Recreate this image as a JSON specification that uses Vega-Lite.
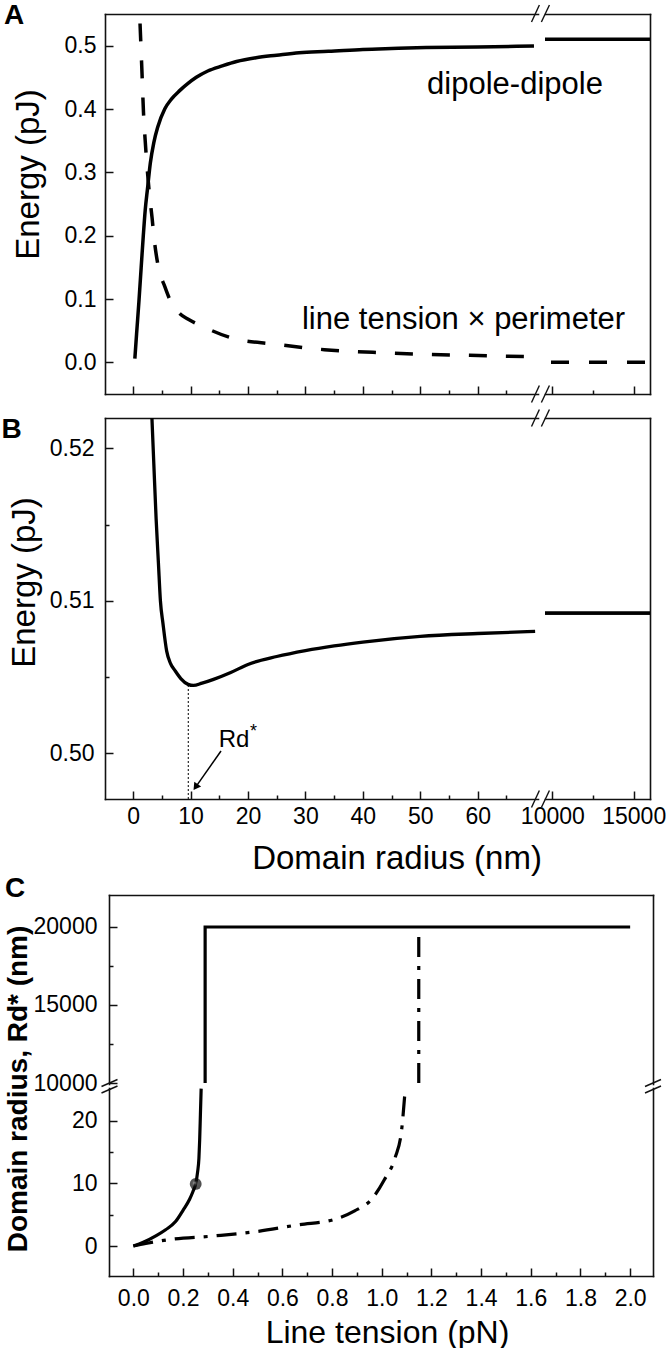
{
  "$schema": "https://vega.github.io/schema/vega-lite/v6.json",
  "autosize": {"type": "pad"},
  "padding": {"left": 1, "top": 2, "right": 0, "bottom": 0},
  "background": "white",
  "config": {
    "view": {"stroke": null},
    "axis": {
      "domainColor": "#111", "domainWidth": 1.6, "domainCap": "square",
      "tickColor": "#111", "tickWidth": 1.5,
      "labelColor": "black", "labelFont": "Liberation Sans", "labelFontSize": 23,
      "titleColor": "black", "titleFont": "Liberation Sans", "titleFontWeight": "normal",
      "grid": false, "labelOverlap": false, "labelFlush": false, "labelBound": false
    },
    "text": {"font": "Liberation Sans", "color": "black"}
  },
  "datasets": {
    "a": [
      {"s": "dipole", "x": 0.3, "y": 0.006}, {"s": "dipole", "x": 0.6, "y": 0.045}, {"s": "dipole", "x": 1.0, "y": 0.095},
      {"s": "dipole", "x": 1.4, "y": 0.15}, {"s": "dipole", "x": 1.77, "y": 0.2}, {"s": "dipole", "x": 2.1, "y": 0.24},
      {"s": "dipole", "x": 2.5, "y": 0.274}, {"s": "dipole", "x": 3.0, "y": 0.315}, {"s": "dipole", "x": 3.6, "y": 0.347},
      {"s": "dipole", "x": 4.3, "y": 0.372}, {"s": "dipole", "x": 5.5, "y": 0.4}, {"s": "dipole", "x": 6.7, "y": 0.416},
      {"s": "dipole", "x": 8.1, "y": 0.429}, {"s": "dipole", "x": 9.5, "y": 0.44}, {"s": "dipole", "x": 11.0, "y": 0.45},
      {"s": "dipole", "x": 13.0, "y": 0.46}, {"s": "dipole", "x": 15.5, "y": 0.468}, {"s": "dipole", "x": 18.0, "y": 0.475},
      {"s": "dipole", "x": 21.4, "y": 0.481}, {"s": "dipole", "x": 25.0, "y": 0.485}, {"s": "dipole", "x": 28.9, "y": 0.489},
      {"s": "dipole", "x": 34.0, "y": 0.491}, {"s": "dipole", "x": 40.0, "y": 0.494}, {"s": "dipole", "x": 45.0, "y": 0.4955},
      {"s": "dipole", "x": 51.0, "y": 0.497}, {"s": "dipole", "x": 60.0, "y": 0.498}, {"s": "dipole", "x": 69.8, "y": 0.4995},
      {"s": "dipole", "x": 9550, "y": 0.51}, {"s": "dipole", "x": 16000, "y": 0.51},
      {"s": "tension", "x": 1.2, "y": 0.535}, {"s": "tension", "x": 1.4, "y": 0.49}, {"s": "tension", "x": 1.55, "y": 0.455},
      {"s": "tension", "x": 1.8, "y": 0.395}, {"s": "tension", "x": 2.1, "y": 0.35}, {"s": "tension", "x": 2.5, "y": 0.3},
      {"s": "tension", "x": 2.9, "y": 0.26}, {"s": "tension", "x": 3.3, "y": 0.228}, {"s": "tension", "x": 3.6, "y": 0.2},
      {"s": "tension", "x": 4.4, "y": 0.15}, {"s": "tension", "x": 5.5, "y": 0.12}, {"s": "tension", "x": 6.6, "y": 0.095},
      {"s": "tension", "x": 8.0, "y": 0.078}, {"s": "tension", "x": 9.6, "y": 0.068}, {"s": "tension", "x": 12.5, "y": 0.055},
      {"s": "tension", "x": 17.7, "y": 0.037}, {"s": "tension", "x": 24.4, "y": 0.029}, {"s": "tension", "x": 33.3, "y": 0.02},
      {"s": "tension", "x": 43.7, "y": 0.015}, {"s": "tension", "x": 58.6, "y": 0.011}, {"s": "tension", "x": 69.8, "y": 0.009},
      {"s": "tension", "x": 9550, "y": 0.0}, {"s": "tension", "x": 16000, "y": 0.0}
    ],
    "b": [
      {"x": 3.25, "y": 0.5222}, {"x": 3.6, "y": 0.519}, {"x": 4.0, "y": 0.5154}, {"x": 4.4, "y": 0.5125},
      {"x": 4.75, "y": 0.51}, {"x": 5.2, "y": 0.5085}, {"x": 5.84, "y": 0.5067}, {"x": 6.5, "y": 0.5059},
      {"x": 7.34, "y": 0.5054}, {"x": 8.3, "y": 0.5049}, {"x": 9.57, "y": 0.50452}, {"x": 10.5, "y": 0.50445},
      {"x": 12.0, "y": 0.5046}, {"x": 14.0, "y": 0.50485}, {"x": 17.0, "y": 0.5053}, {"x": 20.0, "y": 0.50583},
      {"x": 25.0, "y": 0.50635}, {"x": 30.0, "y": 0.50674}, {"x": 35.0, "y": 0.50705}, {"x": 40.0, "y": 0.5073},
      {"x": 50.0, "y": 0.50767}, {"x": 60.0, "y": 0.50786}, {"x": 70.0, "y": 0.508},
      {"x": 9550, "y": 0.50919}, {"x": 16000, "y": 0.50919}
    ],
    "c": [
      {"s": "solid", "i": 0, "x": 0, "y": 0}, {"s": "solid", "i": 1, "x": 0.04, "y": 0.6}, {"s": "solid", "i": 2, "x": 0.094, "y": 1.7},
      {"s": "solid", "i": 3, "x": 0.13, "y": 2.6}, {"s": "solid", "i": 4, "x": 0.17, "y": 3.9}, {"s": "solid", "i": 5, "x": 0.2, "y": 5.7},
      {"s": "solid", "i": 6, "x": 0.227, "y": 7.5}, {"s": "solid", "i": 7, "x": 0.24, "y": 8.7}, {"s": "solid", "i": 8, "x": 0.251, "y": 9.9},
      {"s": "solid", "i": 9, "x": 0.259, "y": 11.9}, {"s": "solid", "i": 10, "x": 0.264, "y": 14.0}, {"s": "solid", "i": 11, "x": 0.267, "y": 16.9},
      {"s": "solid", "i": 12, "x": 0.27, "y": 21.0}, {"s": "solid", "i": 13, "x": 0.273, "y": 25.1},
      {"s": "solid", "i": 14, "x": 0.289, "y": 10000}, {"s": "solid", "i": 15, "x": 0.289, "y": 20000}, {"s": "solid", "i": 16, "x": 2.0, "y": 20000},
      {"s": "dashdot", "i": 0, "x": 0, "y": 0}, {"s": "dashdot", "i": 1, "x": 0.05, "y": 0.4}, {"s": "dashdot", "i": 2, "x": 0.14, "y": 1.0},
      {"s": "dashdot", "i": 3, "x": 0.323, "y": 1.6}, {"s": "dashdot", "i": 4, "x": 0.495, "y": 2.3}, {"s": "dashdot", "i": 5, "x": 0.667, "y": 3.4},
      {"s": "dashdot", "i": 6, "x": 0.805, "y": 4.2}, {"s": "dashdot", "i": 7, "x": 0.891, "y": 5.6}, {"s": "dashdot", "i": 8, "x": 0.96, "y": 7.5},
      {"s": "dashdot", "i": 9, "x": 1.011, "y": 10.6}, {"s": "dashdot", "i": 10, "x": 1.054, "y": 14.1}, {"s": "dashdot", "i": 11, "x": 1.08, "y": 18.5},
      {"s": "dashdot", "i": 12, "x": 1.094, "y": 24.8},
      {"s": "dashdot", "i": 13, "x": 1.149, "y": 10000}, {"s": "dashdot", "i": 14, "x": 1.149, "y": 20000}
    ],
    "brk": [
      {"p": "A", "x": 69.37, "y": 0.5374, "x2": 70.74, "y2": 0.5642},
      {"p": "A", "x": 71.09, "y": 0.5374, "x2": 72.49, "y2": 0.5642},
      {"p": "A", "x": 69.37, "y": -0.0634, "x2": 70.74, "y2": -0.0366},
      {"p": "A", "x": 71.09, "y": -0.0634, "x2": 72.49, "y2": -0.0366},
      {"p": "B", "x": 69.37, "y": 0.52144, "x2": 70.74, "y2": 0.52256},
      {"p": "B", "x": 71.09, "y": 0.52144, "x2": 72.49, "y2": 0.52256},
      {"p": "B", "x": 69.37, "y": 0.49644, "x2": 70.74, "y2": 0.49756},
      {"p": "B", "x": 71.09, "y": 0.49644, "x2": 72.49, "y2": 0.49756},
      {"p": "C", "x": -0.1282, "y": 25.439, "x2": -0.0638, "y2": 26.555},
      {"p": "C", "x": -0.1282, "y": 24.403, "x2": -0.0638, "y2": 25.519},
      {"p": "C", "x": 2.0598, "y": 25.439, "x2": 2.1242, "y2": 26.555},
      {"p": "C", "x": 2.0598, "y": 24.403, "x2": 2.1242, "y2": 25.519}
    ]
  },
  "bounds": "flush",
  "spacing": 24,
  "vconcat": [
    {
      "width": 545, "height": 380,
      "resolve": {"scale": {"x": "independent"}, "axis": {"x": "independent", "y": "independent"}},
      "layer": [
        {
          "data": {"name": "a"},
          "transform": [{"filter": "datum.s === 'dipole' && datum.x < 1000"}],
          "mark": {"type": "line", "color": "black", "strokeWidth": 3.5, "clip": true, "interpolate": "monotone"},
          "encoding": {
            "x": {"field": "x", "type": "quantitative", "scale": {"domain": [-4.9, 70.5], "range": [0, 433], "nice": false, "zero": false},
              "axis": {"orient": "bottom", "values": [0, 5, 10, 15, 20, 25, 30, 35, 40, 45, 50, 55, 60, 65], "labels": false, "title": null,
                "tickSize": {"condition": {"test": "datum.value % 10 !== 0", "value": -4}, "value": -8}}},
            "y": {"field": "y", "type": "quantitative", "scale": {"domain": [-0.05, 0.55], "nice": false, "zero": false},
              "axis": {"orient": "left", "values": [0, 0.1, 0.2, 0.3, 0.4, 0.5], "format": ".1f", "tickSize": -8, "labelPadding": 17,
                "title": "Energy (pJ)", "titleFontSize": 33, "titleX": -77, "titleY": 160, "titleAlign": "center", "titleBaseline": "middle", "titleAngle": 270}}
          }
        },
        {
          "data": {"name": "a"},
          "transform": [{"filter": "datum.s === 'tension' && datum.x < 1000"}],
          "mark": {"type": "line", "color": "black", "strokeWidth": 3.5, "strokeDash": [18, 19], "clip": true, "interpolate": "monotone"},
          "encoding": {
            "x": {"field": "x", "type": "quantitative", "scale": {"domain": [-4.9, 70.5], "range": [0, 433], "nice": false, "zero": false},
              "axis": {"orient": "top", "ticks": false, "labels": false, "title": null}},
            "y": {"field": "y", "type": "quantitative", "scale": {"domain": [-0.05, 0.55], "nice": false, "zero": false}, "axis": null}
          }
        },
        {
          "data": {"name": "a"},
          "transform": [{"filter": "datum.s === 'dipole' && datum.x >= 1000"}],
          "mark": {"type": "line", "color": "black", "strokeWidth": 3.5},
          "encoding": {
            "x": {"field": "x", "type": "quantitative", "scale": {"domain": [9550, 16000], "range": [440, 545], "nice": false, "zero": false},
              "axis": {"orient": "bottom", "values": [10000, 12500, 15000], "labels": false, "title": null,
                "tickSize": {"condition": {"test": "datum.value === 12500", "value": -4}, "value": -8}}},
            "y": {"field": "y", "type": "quantitative", "scale": {"domain": [-0.05, 0.55], "nice": false, "zero": false},
              "axis": {"orient": "right", "ticks": false, "labels": false, "title": null}}
          }
        },
        {
          "data": {"name": "a"},
          "transform": [{"filter": "datum.s === 'tension' && datum.x >= 1000"}],
          "mark": {"type": "line", "color": "black", "strokeWidth": 3.5, "strokeDash": [18, 20], "strokeDashOffset": 32},
          "encoding": {
            "x": {"field": "x", "type": "quantitative", "scale": {"domain": [9550, 16000], "range": [440, 545], "nice": false, "zero": false},
              "axis": {"orient": "top", "ticks": false, "labels": false, "title": null}},
            "y": {"field": "y", "type": "quantitative", "scale": {"domain": [-0.05, 0.55], "nice": false, "zero": false}, "axis": null}
          }
        },
        {
          "data": {"values": [{}]},
          "mark": {"type": "text", "text": "dipole-dipole", "fontSize": 31, "align": "center", "baseline": "alphabetic"},
          "encoding": {
            "x": {"datum": 66.5, "type": "quantitative", "scale": {"domain": [-4.9, 70.5], "range": [0, 433], "nice": false, "zero": false}, "axis": null},
            "y": {"datum": 0.4242, "type": "quantitative", "scale": {"domain": [-0.05, 0.55], "nice": false, "zero": false}, "axis": null}
          }
        },
        {
          "data": {"values": [{}]},
          "mark": {"type": "text", "text": "line tension × perimeter", "fontSize": 31, "align": "center", "baseline": "alphabetic"},
          "encoding": {
            "x": {"datum": 57.53, "type": "quantitative", "scale": {"domain": [-4.9, 70.5], "range": [0, 433], "nice": false, "zero": false}, "axis": null},
            "y": {"datum": 0.0522, "type": "quantitative", "scale": {"domain": [-0.05, 0.55], "nice": false, "zero": false}, "axis": null}
          }
        },
        {
          "data": {"values": [{}]},
          "mark": {"type": "text", "text": "A", "fontSize": 28, "fontWeight": "bold", "align": "center", "baseline": "middle", "dx": -91, "dy": 2},
          "encoding": {
            "x": {"datum": -4.9, "type": "quantitative", "scale": {"domain": [-4.9, 70.5], "range": [0, 433], "nice": false, "zero": false}, "axis": null},
            "y": {"datum": 0.55, "type": "quantitative", "scale": {"domain": [-0.05, 0.55], "nice": false, "zero": false}, "axis": null}
          }
        },
        {
          "data": {"name": "brk"},
          "transform": [{"filter": "datum.p === 'A'"}],
          "mark": {"type": "rule", "color": "#111", "strokeWidth": 1.4},
          "encoding": {
            "x": {"field": "x", "type": "quantitative", "scale": {"domain": [-4.9, 70.5], "range": [0, 433], "nice": false, "zero": false}, "axis": null},
            "x2": {"field": "x2"},
            "y": {"field": "y", "type": "quantitative", "scale": {"domain": [-0.05, 0.55], "nice": false, "zero": false}, "axis": null},
            "y2": {"field": "y2"}
          }
        }
      ]
    },
    {
      "width": 545, "height": 381,
      "resolve": {"scale": {"x": "independent"}, "axis": {"x": "independent", "y": "independent"}},
      "layer": [
        {
          "data": {"name": "b"},
          "transform": [{"filter": "datum.x < 1000"}],
          "mark": {"type": "line", "color": "black", "strokeWidth": 3.3, "clip": true, "interpolate": "monotone"},
          "encoding": {
            "x": {"field": "x", "type": "quantitative", "scale": {"domain": [-4.9, 70.5], "range": [0, 433], "nice": false, "zero": false},
              "axis": {"orient": "bottom", "values": [0, 5, 10, 15, 20, 25, 30, 35, 40, 45, 50, 55, 60, 65],
                "labelExpr": "datum.value % 10 === 0 ? datum.label : ''", "labelPadding": 14,
                "tickSize": {"condition": {"test": "datum.value % 10 !== 0", "value": -4}, "value": -8},
                "title": "Domain radius (nm)", "titleFontSize": 33, "titleX": 291.5, "titleY": 69, "titleAlign": "center", "titleBaseline": "alphabetic"}},
            "y": {"field": "y", "type": "quantitative", "scale": {"domain": [0.497, 0.522], "nice": false, "zero": false},
              "axis": {"orient": "left", "values": [0.5, 0.505, 0.51, 0.515, 0.52], "format": ".2f",
                "labelExpr": "round(datum.value * 1000) % 10 === 0 ? datum.label : ''",
                "tickSize": {"condition": {"test": "round(datum.value * 1000) % 10 !== 0", "value": -4}, "value": -8},
                "labelPadding": 19,
                "title": "Energy (pJ)", "titleFontSize": 33, "titleX": -80.5, "titleY": 164, "titleAlign": "center", "titleBaseline": "middle", "titleAngle": 270}}
          }
        },
        {
          "data": {"values": [{}]},
          "mark": {"type": "rule", "color": "black", "strokeWidth": 1, "strokeDash": [2, 2]},
          "encoding": {
            "x": {"datum": 9.6, "type": "quantitative", "scale": {"domain": [-4.9, 70.5], "range": [0, 433], "nice": false, "zero": false},
              "axis": {"orient": "top", "ticks": false, "labels": false, "title": null}},
            "y": {"datum": 0.497, "type": "quantitative", "scale": {"domain": [0.497, 0.522], "nice": false, "zero": false}, "axis": null},
            "y2": {"datum": 0.50445}
          }
        },
        {
          "data": {"name": "b"},
          "transform": [{"filter": "datum.x >= 1000"}],
          "mark": {"type": "line", "color": "black", "strokeWidth": 3.3},
          "encoding": {
            "x": {"field": "x", "type": "quantitative", "scale": {"domain": [9550, 16000], "range": [440, 545], "nice": false, "zero": false},
              "axis": {"orient": "bottom", "values": [10000, 12500, 15000], "format": "d",
                "labelExpr": "datum.value === 12500 ? '' : datum.label", "labelPadding": 14,
                "tickSize": {"condition": {"test": "datum.value === 12500", "value": -4}, "value": -8}, "title": null}},
            "y": {"field": "y", "type": "quantitative", "scale": {"domain": [0.497, 0.522], "nice": false, "zero": false},
              "axis": {"orient": "right", "ticks": false, "labels": false, "title": null}}
          }
        },
        {
          "data": {"name": "b"},
          "transform": [{"filter": "datum.x >= 1000"}],
          "mark": {"type": "line", "color": "black", "strokeWidth": 3.3},
          "encoding": {
            "x": {"field": "x", "type": "quantitative", "scale": {"domain": [9550, 16000], "range": [440, 545], "nice": false, "zero": false},
              "axis": {"orient": "top", "ticks": false, "labels": false, "title": null}},
            "y": {"field": "y", "type": "quantitative", "scale": {"domain": [0.497, 0.522], "nice": false, "zero": false}, "axis": null}
          }
        },
        {
          "data": {"values": [{}]},
          "mark": {"type": "text", "text": "Rd", "fontSize": 24, "align": "center", "baseline": "alphabetic"},
          "encoding": {
            "x": {"datum": 17.56, "type": "quantitative", "scale": {"domain": [-4.9, 70.5], "range": [0, 433], "nice": false, "zero": false}, "axis": null},
            "y": {"datum": 0.50041, "type": "quantitative", "scale": {"domain": [0.497, 0.522], "nice": false, "zero": false}, "axis": null}
          }
        },
        {
          "data": {"values": [{}]},
          "mark": {"type": "text", "text": "*", "fontSize": 18, "align": "center", "baseline": "alphabetic"},
          "encoding": {
            "x": {"datum": 20.96, "type": "quantitative", "scale": {"domain": [-4.9, 70.5], "range": [0, 433], "nice": false, "zero": false}, "axis": null},
            "y": {"datum": 0.5011, "type": "quantitative", "scale": {"domain": [0.497, 0.522], "nice": false, "zero": false}, "axis": null}
          }
        },
        {
          "data": {"values": [{}]},
          "mark": {"type": "rule", "color": "black", "strokeWidth": 1.5},
          "encoding": {
            "x": {"datum": 15.3, "type": "quantitative", "scale": {"domain": [-4.9, 70.5], "range": [0, 433], "nice": false, "zero": false}, "axis": null},
            "x2": {"datum": 10.88},
            "y": {"datum": 0.50015, "type": "quantitative", "scale": {"domain": [0.497, 0.522], "nice": false, "zero": false}, "axis": null},
            "y2": {"datum": 0.49778}
          }
        },
        {
          "data": {"values": [{}]},
          "mark": {"type": "point", "shape": "triangle-up", "filled": true, "color": "black", "size": 70, "angle": 215, "opacity": 1},
          "encoding": {
            "x": {"datum": 10.88, "type": "quantitative", "scale": {"domain": [-4.9, 70.5], "range": [0, 433], "nice": false, "zero": false}, "axis": null},
            "y": {"datum": 0.49778, "type": "quantitative", "scale": {"domain": [0.497, 0.522], "nice": false, "zero": false}, "axis": null}
          }
        },
        {
          "data": {"values": [{}]},
          "mark": {"type": "text", "text": "B", "fontSize": 28, "fontWeight": "bold", "align": "center", "baseline": "middle", "dx": -93.5, "dy": 11.5},
          "encoding": {
            "x": {"datum": -4.9, "type": "quantitative", "scale": {"domain": [-4.9, 70.5], "range": [0, 433], "nice": false, "zero": false}, "axis": null},
            "y": {"datum": 0.522, "type": "quantitative", "scale": {"domain": [0.497, 0.522], "nice": false, "zero": false}, "axis": null}
          }
        },
        {
          "data": {"name": "brk"},
          "transform": [{"filter": "datum.p === 'B'"}],
          "mark": {"type": "rule", "color": "#111", "strokeWidth": 1.4},
          "encoding": {
            "x": {"field": "x", "type": "quantitative", "scale": {"domain": [-4.9, 70.5], "range": [0, 433], "nice": false, "zero": false}, "axis": null},
            "x2": {"field": "x2"},
            "y": {"field": "y", "type": "quantitative", "scale": {"domain": [0.497, 0.522], "nice": false, "zero": false}, "axis": null},
            "y2": {"field": "y2"}
          }
        }
      ]
    },
    {
      "width": 548, "height": 453,
      "resolve": {"scale": {"y": "independent"}, "axis": {"x": "independent", "y": "independent"}},
      "layer": [
        {
          "data": {"name": "c"},
          "transform": [{"filter": "datum.s === 'solid' && datum.y >= 1000"}],
          "mark": {"type": "line", "color": "black", "strokeWidth": 3.2},
          "encoding": {
            "order": {"field": "i", "type": "quantitative"},
            "x": {"field": "x", "type": "quantitative", "scale": {"domain": [-0.098, 2.092], "range": [4, 548], "nice": false, "zero": false},
              "axis": {"orient": "top", "offset": -72, "ticks": false, "labels": false, "title": null}},
            "y": {"field": "y", "type": "quantitative", "scale": {"domain": [9936, 22051], "range": [261, 72], "nice": false, "zero": false},
              "axis": {"orient": "left", "offset": -4, "values": [10000, 12500, 15000, 17500, 20000], "format": "d",
                "labelExpr": "datum.value % 5000 === 0 ? datum.label : ''",
                "tickSize": {"condition": {"test": "datum.value % 5000 !== 0", "value": -4}, "value": -8},
                "labelPadding": 20, "title": null}}
          }
        },
        {
          "data": {"name": "c"},
          "transform": [{"filter": "datum.s === 'dashdot' && datum.y >= 1000"}],
          "mark": {"type": "line", "color": "black", "strokeWidth": 3.2, "strokeDash": [20, 9, 4, 9]},
          "encoding": {
            "order": {"field": "i", "type": "quantitative"},
            "x": {"field": "x", "type": "quantitative", "scale": {"domain": [-0.098, 2.092], "range": [4, 548], "nice": false, "zero": false}, "axis": null},
            "y": {"field": "y", "type": "quantitative", "scale": {"domain": [9936, 22051], "range": [261, 72], "nice": false, "zero": false},
              "axis": {"orient": "right", "ticks": false, "labels": false, "title": null}}
          }
        },
        {
          "data": {"name": "c"},
          "transform": [{"filter": "datum.s === 'solid' && datum.y < 1000"}],
          "mark": {"type": "line", "color": "black", "strokeWidth": 3.2, "interpolate": "monotone"},
          "encoding": {
            "order": {"field": "i", "type": "quantitative"},
            "x": {"field": "x", "type": "quantitative", "scale": {"domain": [-0.098, 2.092], "range": [4, 548], "nice": false, "zero": false},
              "axis": {"orient": "bottom", "values": [0, 0.1, 0.2, 0.3, 0.4, 0.5, 0.6, 0.7, 0.8, 0.9, 1.0, 1.1, 1.2, 1.3, 1.4, 1.5, 1.6, 1.7, 1.8, 1.9, 2.0],
                "format": ".1f", "labelExpr": "round(datum.value * 10) % 2 === 0 ? datum.label : ''", "labelPadding": 19,
                "tickSize": {"condition": {"test": "round(datum.value * 10) % 2 === 1", "value": -4}, "value": -8},
                "title": "Line tension (pN)", "titleFontSize": 32, "titleX": 282, "titleY": 66, "titleAlign": "center", "titleBaseline": "alphabetic"}},
            "y": {"field": "y", "type": "quantitative", "scale": {"domain": [-4.78, 25.2], "range": [453, 265], "nice": false, "zero": false},
              "axis": {"orient": "left", "offset": -4, "values": [0, 5, 10, 15, 20],
                "labelExpr": "datum.value % 10 === 0 ? datum.label : ''",
                "tickSize": {"condition": {"test": "datum.value % 10 !== 0", "value": -4}, "value": -8},
                "labelPadding": 20,
                "title": "Domain radius, Rd* (nm)", "titleFontSize": 28, "titleFontWeight": "bold", "titleX": -91, "titleY": 265.5,
                "titleAlign": "center", "titleBaseline": "middle", "titleAngle": 270}}
          }
        },
        {
          "data": {"name": "c"},
          "transform": [{"filter": "datum.s === 'dashdot' && datum.y < 1000"}],
          "mark": {"type": "line", "color": "black", "strokeWidth": 3.2, "strokeDash": [20, 9, 4, 9], "interpolate": "monotone"},
          "encoding": {
            "order": {"field": "i", "type": "quantitative"},
            "x": {"field": "x", "type": "quantitative", "scale": {"domain": [-0.098, 2.092], "range": [4, 548], "nice": false, "zero": false}, "axis": null},
            "y": {"field": "y", "type": "quantitative", "scale": {"domain": [-4.78, 25.2], "range": [453, 265], "nice": false, "zero": false},
              "axis": {"orient": "right", "ticks": false, "labels": false, "title": null}}
          }
        },
        {
          "data": {"values": [{}]},
          "mark": {"type": "point", "filled": true, "size": 140, "strokeWidth": 0,
            "fill": {"gradient": "radial", "x1": 0.42, "y1": 0.4, "r1": 0, "x2": 0.5, "y2": 0.5, "r2": 0.55,
              "stops": [{"offset": 0, "color": "#cfcfcf"}, {"offset": 0.18, "color": "#555"}, {"offset": 0.45, "color": "#111"}, {"offset": 1, "color": "#000"}]}},
          "encoding": {
            "x": {"datum": 0.251, "type": "quantitative", "scale": {"domain": [-0.098, 2.092], "range": [4, 548], "nice": false, "zero": false}, "axis": null},
            "y": {"datum": 9.9, "type": "quantitative", "scale": {"domain": [-4.78, 25.2], "range": [453, 265], "nice": false, "zero": false}, "axis": null}
          }
        },
        {
          "data": {"values": [{}]},
          "mark": {"type": "text", "text": "C", "fontSize": 28, "fontWeight": "bold", "align": "center", "baseline": "middle", "dx": -94, "dy": -6},
          "encoding": {
            "x": {"datum": -0.098, "type": "quantitative", "scale": {"domain": [-0.098, 2.092], "range": [4, 548], "nice": false, "zero": false}, "axis": null},
            "y": {"datum": 22051, "type": "quantitative", "scale": {"domain": [9936, 22051], "range": [261, 72], "nice": false, "zero": false}, "axis": null}
          }
        },
        {
          "data": {"name": "brk"},
          "transform": [{"filter": "datum.p === 'C'"}],
          "mark": {"type": "rule", "color": "#111", "strokeWidth": 1.4},
          "encoding": {
            "x": {"field": "x", "type": "quantitative", "scale": {"domain": [-0.098, 2.092], "range": [4, 548], "nice": false, "zero": false}, "axis": null},
            "x2": {"field": "x2"},
            "y": {"field": "y", "type": "quantitative", "scale": {"domain": [-4.78, 25.2], "range": [453, 265], "nice": false, "zero": false}, "axis": null},
            "y2": {"field": "y2"}
          }
        }
      ]
    }
  ]
}
